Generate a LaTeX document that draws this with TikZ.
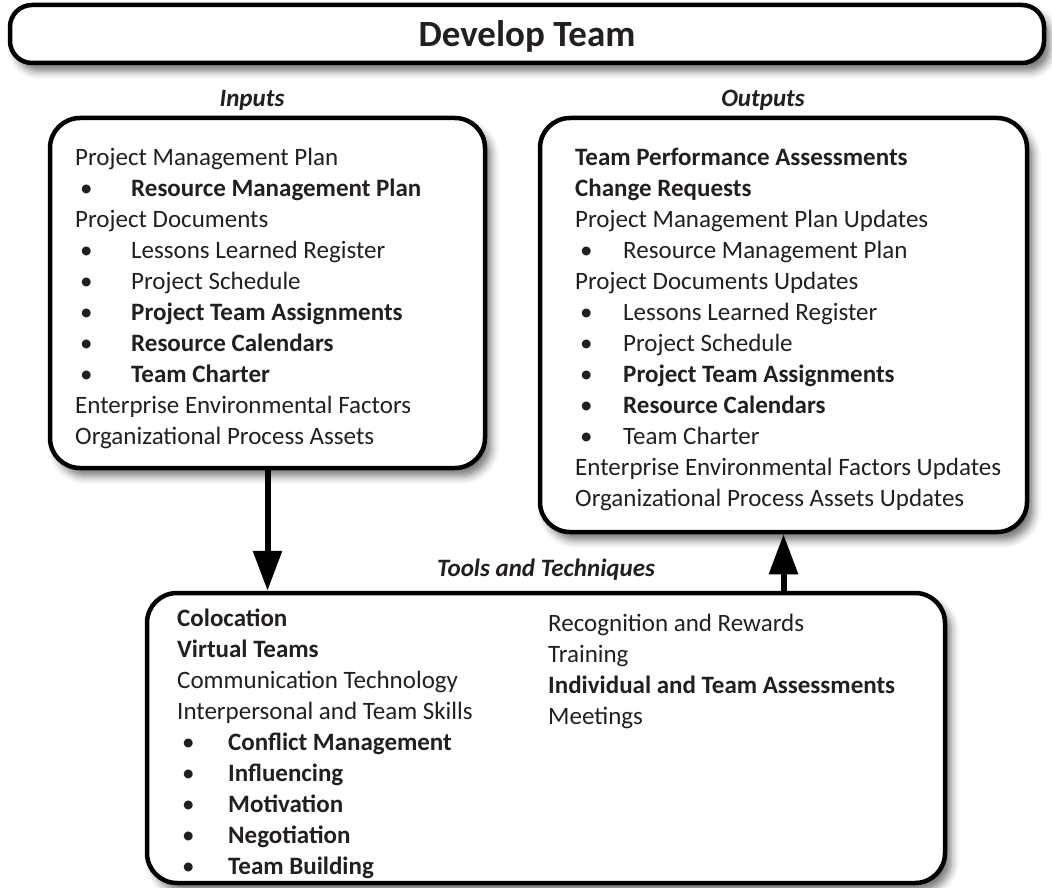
\documentclass[tikz,border=0pt]{standalone}
\usepackage{fontspec}
\setmainfont{Carlito}
\usetikzlibrary{arrows.meta, shadows.blur}
\definecolor{inkgray}{RGB}{35, 31, 32}

% bulleted line inside a box, #1 = indent of the text
\newcommand{\itemline}[2][56pt]{\makebox[#1][l]{\hspace{5pt}\textbullet}#2}

\begin{document}
\begin{tikzpicture}[
    x=1pt, y=-1pt,
    box/.style={draw=black, line width=4.5pt, rounded corners=30pt, fill=white,
        blur shadow={shadow xshift=6pt, shadow yshift=-8pt, shadow blur radius=8pt, shadow opacity=55}},
    boxtext/.style={anchor=north west, align=left, inner sep=0pt, text=inkgray,
        font=\fontsize{25}{31}\selectfont},
    heading/.style={font=\fontsize{25}{30}\selectfont\bfseries\itshape, text=inkgray},
    flow/.style={line width=6pt, -{Triangle[length=40pt, width=28pt]}}
]
    \useasboundingbox (0,0) rectangle (1052,888);

    % Title bar
    \node (title) [box, rounded corners=22pt, minimum width=1034pt, minimum height=58pt, text depth=0pt,
        font=\fontsize{37}{42}\selectfont\bfseries, text=inkgray] at (527,34) {Develop Team};

    % Boxes
    \node (inbox) [box, minimum width=435pt, minimum height=350pt] at (267.5,293) {};
    \node (outbox) [box, minimum width=487pt, minimum height=414pt] at (783.5,325) {};
    \node (tools) [box, minimum width=798pt, minimum height=290pt] at (546,738) {};

    % Headings
    \node (inlabel) [heading] at (252,100) {Inputs};
    \node (outlabel) [heading] at (763,100) {Outputs};
    \node (toollabel) [heading] at (546,570) {Tools and Techniques};

    % Inputs
    \node (intext) [boxtext] at (75,148) {Project Management Plan\\
        \itemline{\textbf{Resource Management Plan}}\\
        Project Documents\\
        \itemline{Lessons Learned Register}\\
        \itemline{Project Schedule}\\
        \itemline{\textbf{Project Team Assignments}}\\
        \itemline{\textbf{Resource Calendars}}\\
        \itemline{\textbf{Team Charter}}\\
        Enterprise Environmental Factors\\
        Organizational Process Assets};

    % Outputs
    \node (outtext) [boxtext] at (575,148) {\textbf{Team Performance Assessments}\\
        \textbf{Change Requests}\\
        Project Management Plan Updates\\
        \itemline[48pt]{Resource Management Plan}\\
        Project Documents Updates\\
        \itemline[48pt]{Lessons Learned Register}\\
        \itemline[48pt]{Project Schedule}\\
        \itemline[48pt]{\textbf{Project Team Assignments}}\\
        \itemline[48pt]{\textbf{Resource Calendars}}\\
        \itemline[48pt]{Team Charter}\\
        Enterprise Environmental Factors Updates\\
        Organizational Process Assets Updates};

    % Tools and techniques, two columns
    \node (toolsleft) [boxtext] at (177,609) {\textbf{Colocation}\\
        \textbf{Virtual Teams}\\
        Communication Technology\\
        Interpersonal and Team Skills\\
        \itemline[51pt]{\textbf{Conflict Management}}\\
        \itemline[51pt]{\textbf{Influencing}}\\
        \itemline[51pt]{\textbf{Motivation}}\\
        \itemline[51pt]{\textbf{Negotiation}}\\
        \itemline[51pt]{\textbf{Team Building}}};
    \node (toolsright) [boxtext] at (548,614) {Recognition and Rewards\\
        Training\\
        \textbf{Individual and Team Assessments}\\
        Meetings};

    % Flow between boxes
    \draw [flow] (inbox.south) -- (inbox.south |- tools.north);
    \draw [flow] (outbox.south |- tools.north) -- (outbox.south);

\end{tikzpicture}
\end{document}
